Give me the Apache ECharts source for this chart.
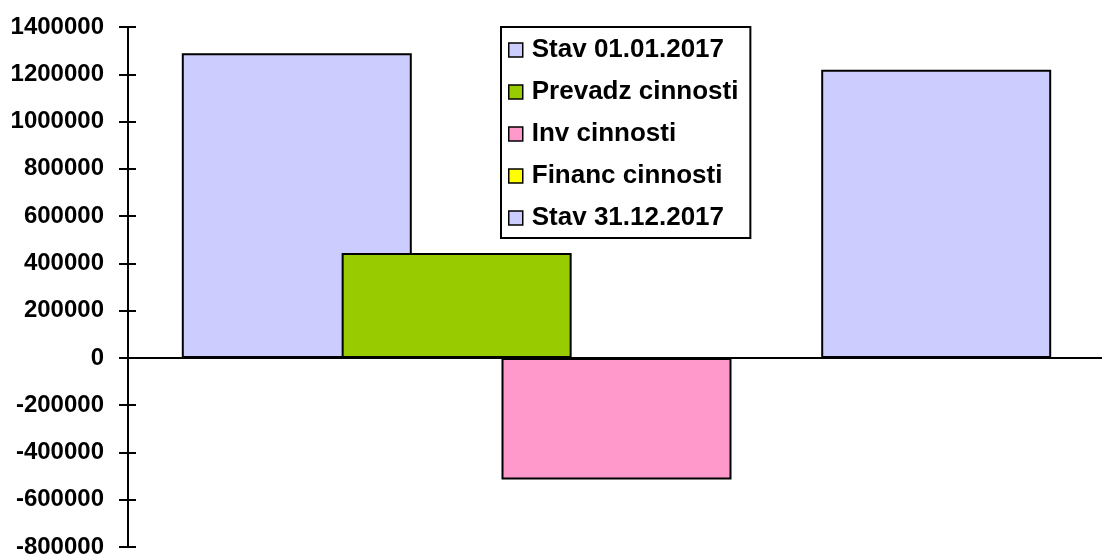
<!DOCTYPE html>
<html>
<head>
<meta charset="utf-8">
<script src="https://cdn.jsdelivr.net/npm/echarts@6/dist/echarts.min.js"></script>
<style>
  html, body { margin: 0; padding: 0; background: #fff; }
  #chart { width: 1102px; height: 557px; }
</style>
</head>
<body>
<div id="chart"></div>
<script>
// data
const categories = [''];
const seriesNames = ['Stav 01.01.2017', 'Prevadz cinnosti', 'Inv cinnosti', 'Financ cinnosti', 'Stav 31.12.2017'];
const seriesValues = [1289000, 444000, -514000, 0, 1219000];
const seriesColors = ['#CCCCFF', '#99CC00', '#FF99CC', '#FFFF00', '#CCCCFF'];
const yMin = -800000, yMax = 1400000, yStep = 200000;

const font = "'Liberation Sans', Arial, sans-serif";

const chart = echarts.init(document.getElementById('chart'), null, { renderer: 'canvas' });

let series = [];
for (let i = 0; i < seriesNames.length; i++) {
  series.push({
    name: seriesNames[i],
    type: 'bar',
    data: [seriesValues[i]],
    barWidth: 230,
    barGap: '-30.5%',
    itemStyle: {
      color: seriesColors[i],
      borderColor: '#000',
      borderWidth: 2
    },
    emphasis: { disabled: true }
  });
}

const option = {
  animation: false,
  grid: { left: 128, right: -3, top: 27, bottom: 10, containLabel: false, outerBoundsMode: 'none' },
  xAxis: {
    type: 'category',
    data: categories,
    axisLine: { onZero: true, lineStyle: { color: '#000', width: 2 } },
    axisTick: { show: false },
    axisLabel: { show: false },
    splitLine: { show: false }
  },
  yAxis: [
    {
      type: 'value',
      min: yMin, max: yMax, interval: yStep,
      axisLine: { show: true, lineStyle: { color: '#000', width: 2 } },
      axisTick: { show: true, inside: false, length: 9, lineStyle: { color: '#000', width: 2 } },
      axisLabel: {
        color: '#000', fontFamily: font, fontWeight: 'bold', fontSize: 24, margin: 24,
        formatter: v => String(v)
      },
      splitLine: { show: false }
    },
    {
      type: 'value',
      position: 'left',
      min: yMin, max: yMax, interval: yStep,
      axisLine: { show: false },
      axisTick: { show: true, inside: true, length: 8, lineStyle: { color: '#000', width: 2 } },
      axisLabel: { show: false },
      splitLine: { show: false }
    }
  ],
  legend: {
    orient: 'vertical',
    left: 501,
    top: 27,
    padding: [10, 12, 7, 7],
    itemWidth: 14,
    itemHeight: 14,
    itemGap: 16,
    icon: 'rect',
    borderColor: '#000',
    borderWidth: 2,
    backgroundColor: '#fff',
    selectedMode: false,
    itemStyle: { borderWidth: 1.5, borderColor: '#000' },
    textStyle: { color: '#000', fontFamily: font, fontWeight: 'bold', fontSize: 26, lineHeight: 25, padding: [0, 0, 0, 4] },
    data: seriesNames
  },
  series: series
};

chart.setOption(option);
</script>
</body>
</html>
